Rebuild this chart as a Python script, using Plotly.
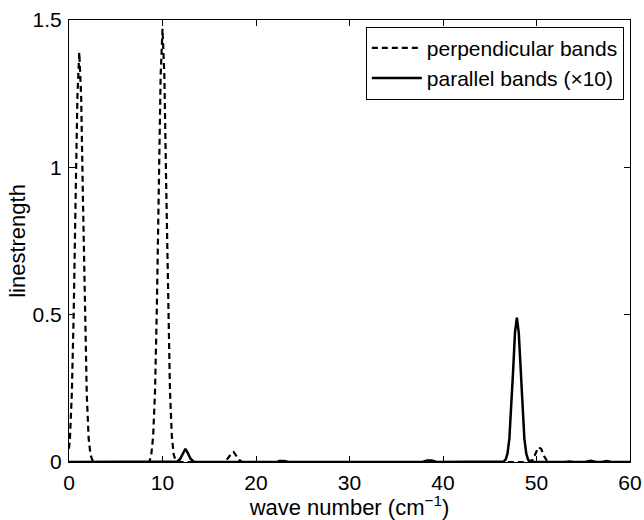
import plotly.graph_objects as go

# perpendicular bands (dashed)
perp_x = [0, 0.1, 0.3, 0.5, 0.7, 0.9, 1.1, 1.3, 1.5, 1.7, 1.9, 2.1, 2.3, 2.5, 3.0, 8.6,
          8.8, 9.0, 9.2, 9.4, 9.6, 9.8, 10.0, 10.2, 10.4, 10.6, 10.8, 11.0, 11.2, 11.4, 12.0,
          16.5, 16.8, 17.1, 17.4, 17.6, 17.9, 18.2, 18.5, 22.0, 22.4, 22.8, 23.2,
          49.2, 49.6, 49.9, 50.2, 50.5, 50.8, 51.1, 51.4, 60.0]
perp_y = [0.045, 0.08, 0.23, 0.50, 0.88, 1.24, 1.39, 1.24, 0.88, 0.50, 0.23, 0.08, 0.024, 0.006, 0.0, 0.0,
          0.025, 0.087, 0.24, 0.53, 0.93, 1.31, 1.47, 1.31, 0.93, 0.53, 0.24, 0.087, 0.025, 0.006, 0.0,
          0.0, 0.005, 0.017, 0.032, 0.034, 0.02, 0.007, 0.0, 0.0, 0.004, 0.004, 0.0,
          0.0, 0.008, 0.03, 0.05, 0.045, 0.02, 0.005, 0.0, 0.0]

# parallel bands x10 (solid)
par_x = [0, 11.3, 11.6, 11.9, 12.2, 12.45, 12.7, 13.0, 13.3, 13.6, 22.5, 23.0, 23.5,
         37.8, 38.3, 38.8, 39.3, 46.2, 46.5, 46.7, 46.9, 47.1, 47.3, 47.5, 47.7, 47.9,
         48.1, 48.3, 48.5, 48.7, 48.9, 49.1, 49.3, 49.6, 53.0, 53.5, 54.0, 55.2, 55.8,
         56.4, 57.0, 57.5, 58.0, 60.0]
par_y = [0, 0.0, 0.002, 0.011, 0.031, 0.045, 0.031, 0.011, 0.002, 0.0, 0.0, 0.003, 0.0,
         0.0, 0.005, 0.005, 0.0, 0.0, 0.002, 0.008, 0.029, 0.08, 0.18, 0.31, 0.44, 0.49,
         0.44, 0.31, 0.18, 0.08, 0.029, 0.008, 0.002, 0.0, 0.0, 0.002, 0.0, 0.0, 0.004,
         0.0, 0.0, 0.003, 0.0, 0.0]

x_ticks = [0, 10, 20, 30, 40, 50, 60]
y_ticks = [0, 0.5, 1, 1.5]
y_tick_labels = ["0", "0.5", "1", "1.5"]

fig = go.Figure()
fig.add_trace(go.Scatter(x=perp_x, y=perp_y, mode="lines", name="perpendicular bands",
                         line=dict(color="black", width=2.2, dash="6px,4px")))
fig.add_trace(go.Scatter(x=par_x, y=par_y, mode="lines", name="parallel bands (×10)",
                         line=dict(color="black", width=2.5)))

fam = "Liberation Sans, Arial, sans-serif"
tick_font = dict(family=fam, size=21, color="black")
title_font = dict(family=fam, size=22, color="black")
axis_common = dict(showline=True, linecolor="black", linewidth=1, mirror="ticks",
                   ticks="inside", ticklen=6, tickcolor="black", showgrid=False,
                   zeroline=False, tickfont=tick_font, automargin=False)

fig.update_layout(
    width=644, height=520,
    margin=dict(l=69, r=14, t=20, b=58),
    paper_bgcolor="white", plot_bgcolor="white",
    font=tick_font,
    showlegend=True,
    legend=dict(x=0.989, y=0.985, xanchor="right", yanchor="top",
                bordercolor="black", borderwidth=1, bgcolor="white",
                font=dict(family=fam, size=21, color="black"),
                itemwidth=50, tracegroupgap=0),
    xaxis=dict(range=[0, 60], tickvals=x_ticks, ticklabelstandoff=2,
               title=dict(text="wave number (cm<sup>−1</sup>)", font=title_font, standoff=0),
               **axis_common),
    yaxis=dict(range=[0, 1.5], tickvals=y_ticks, ticktext=y_tick_labels, ticklabelstandoff=2,
               title=dict(text="linestrength", font=title_font, standoff=0),
               **axis_common),
)

fig.write_html("out.html", config={"displayModeBar": False},
               post_script="document.body.style.margin='0';document.body.style.overflow='hidden';")
